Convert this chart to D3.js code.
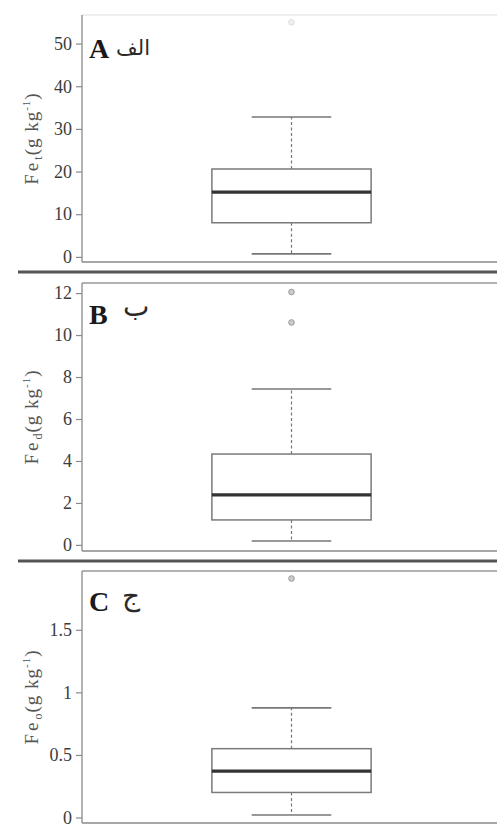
<!DOCTYPE html>
<html>
<head>
<meta charset="utf-8">
<script src="https://cdn.jsdelivr.net/npm/d3@7"></script>
<style>
  html, body { margin: 0; padding: 0; background: #fff; }
  svg { display: block; }
  .tick-label { font-family: "Liberation Serif", "Times New Roman", serif; font-size: 18px; fill: #3c3c3c; }
  .axis-title { font-family: "Liberation Serif", "Times New Roman", serif; font-size: 19px; fill: #555; letter-spacing: 1px; }
  .panel-letter { font-family: "Liberation Serif", serif; font-weight: bold; font-size: 28px; fill: #1a1a1a; }
  .panel-arabic { font-family: "DejaVu Sans", "Noto Sans", sans-serif; fill: #2a2a2a; }
</style>
</head>
<body>
<div id="chart"></div>
<script>
// three stacked boxplots: Fe_t, Fe_d, Fe_o (g kg-1)

const panelLetters = ['A', 'B', 'C'];
const arabicLetters = ['الف', 'ب', 'ج'];
const feSubscripts = ['t', 'd', 'o'];

// five-number summaries: [lower whisker, Q1, median, Q3, upper whisker]
const statsFeT = [0.7, 8.0, 15.2, 20.6, 32.8];
const statsFeD = [0.19, 1.19, 2.38, 4.33, 7.43];
const statsFeO = [0.02, 0.20, 0.37, 0.55, 0.876];

const outliersFeT = [55];
const outliersFeD = [10.6, 12.05];
const outliersFeO = [1.91];

const ticksFeT = [0, 10, 20, 30, 40, 50];
const ticksFeD = [0, 2, 4, 6, 8, 10, 12];
const ticksFeO = [0, 0.5, 1, 1.5];

const tickLabelsFeO = ['0', '0.5', '1', '1.5'];

const panels = [
  { stats: statsFeT, outliers: outliersFeT, ticks: ticksFeT, labels: ticksFeT.map(String), domain: [-1.2, 56.7] },
  { stats: statsFeD, outliers: outliersFeD, ticks: ticksFeD, labels: ticksFeD.map(String), domain: [-0.29, 12.48] },
  { stats: statsFeO, outliers: outliersFeO, ticks: ticksFeO, labels: tickLabelsFeO, domain: [-0.044, 1.97] }
];

const width = 503, height = 832;
const left = 82, right = 501;
const tops = [15, 283, 571];
const bottoms = [262, 551, 823];

const svg = d3.select('#chart').append('svg')
  .attr('width', width)
  .attr('height', height);

// one box centred at x = 1, R-style limits
const x = d3.scaleLinear().domain([0.5, 1.5]).range([left, right]);
const boxHalf = 0.19, capHalf = 0.095;

panels.forEach((p, i) => {
  const y = d3.scaleLinear().domain(p.domain).range([bottoms[i], tops[i]]);
  const g = svg.append('g');
  const [lo, q1, med, q3, hi] = p.stats;

  // frame: top faint for first panel, right side outside of view
  g.append('line')
    .attr('x1', left).attr('x2', 497)
    .attr('y1', tops[i]).attr('y2', tops[i])
    .attr('stroke', i === 0 ? '#e8e8e8' : '#999').attr('stroke-width', 1.3);
  g.append('line')
    .attr('x1', left).attr('x2', 497)
    .attr('y1', bottoms[i]).attr('y2', bottoms[i])
    .attr('stroke', '#8a8a8a').attr('stroke-width', 1.3);

  // y axis
  const axis = d3.axisLeft(y)
    .tickValues(p.ticks)
    .tickFormat((d, k) => p.labels[k])
    .tickSize(6)
    .tickPadding(4);
  const ag = g.append('g')
    .attr('transform', `translate(${left},0)`)
    .call(axis)
    .attr('font-family', null)
    .attr('font-size', null);
  ag.select('.domain').remove();
  ag.selectAll('.tick line').attr('stroke', '#8a8a8a').attr('stroke-width', 1.2);
  ag.selectAll('.tick text').attr('class', 'tick-label');
  g.append('line')
    .attr('x1', left).attr('x2', left)
    .attr('y1', tops[i]).attr('y2', bottoms[i])
    .attr('stroke', '#8a8a8a').attr('stroke-width', 1.3);

  // axis title
  const cy = (tops[i] + bottoms[i]) / 2;
  const title = g.append('text')
    .attr('class', 'axis-title')
    .attr('text-anchor', 'middle')
    .attr('transform', `translate(38,${cy}) rotate(-90)`);
  title.append('tspan').attr('letter-spacing', '3px').text('Fe');
  title.append('tspan').attr('font-size', '12px').attr('dy', 4).text(feSubscripts[i]);
  title.append('tspan').attr('dy', -4).text('(g kg');
  title.append('tspan').attr('font-size', '11px').attr('dy', -8).text('-1');
  title.append('tspan').attr('dy', 8).text(')');

  // whiskers
  const cx = x(1);
  g.append('line')
    .attr('x1', cx).attr('x2', cx)
    .attr('y1', y(q3)).attr('y2', y(hi))
    .attr('stroke', '#777').attr('stroke-width', 1.2).attr('stroke-dasharray', '3,2.5');
  g.append('line')
    .attr('x1', cx).attr('x2', cx)
    .attr('y1', y(q1)).attr('y2', y(lo))
    .attr('stroke', '#777').attr('stroke-width', 1.2).attr('stroke-dasharray', '3,2.5');
  [lo, hi].forEach(v => {
    g.append('line')
      .attr('x1', x(1 - capHalf)).attr('x2', x(1 + capHalf))
      .attr('y1', y(v)).attr('y2', y(v))
      .attr('stroke', '#777').attr('stroke-width', 1.6);
  });

  // box
  g.append('rect')
    .attr('x', x(1 - boxHalf))
    .attr('y', y(q3))
    .attr('width', x(1 + boxHalf) - x(1 - boxHalf))
    .attr('height', y(q1) - y(q3))
    .attr('fill', '#fff')
    .attr('stroke', '#7a7a7a').attr('stroke-width', 1.5);
  g.append('line')
    .attr('x1', x(1 - boxHalf)).attr('x2', x(1 + boxHalf))
    .attr('y1', y(med)).attr('y2', y(med))
    .attr('stroke', '#333').attr('stroke-width', 3.2);

  // outliers
  g.selectAll('.outlier')
    .data(p.outliers)
    .join('circle')
    .attr('class', 'outlier')
    .attr('cx', cx)
    .attr('cy', d => y(d))
    .attr('r', 2.8)
    .attr('fill', i === 0 ? '#f0f0f0' : '#ccc')
    .attr('stroke', i === 0 ? '#ddd' : '#999')
    .attr('stroke-width', 1);

  // panel letters
  const ly = tops[i] + [43, 41, 40][i];
  g.append('text').attr('class', 'panel-letter')
    .attr('x', 89).attr('y', ly).text(panelLetters[i]);
  g.append('text').attr('class', 'panel-arabic')
    .attr('font-size', [21, 28, 28][i] + 'px')
    .attr('x', [116, 123, 122][i]).attr('y', ly + [-3, -8, -6][i])
    .text(arabicLetters[i]);
});

// thick separators between panels
const seps = [272, 561];
svg.selectAll('.sep')
  .data(seps)
  .join('line')
  .attr('class', 'sep')
  .attr('x1', 18).attr('x2', 497)
  .attr('y1', d => d).attr('y2', d => d)
  .attr('stroke', '#555').attr('stroke-width', 3);
</script>
</body>
</html>
